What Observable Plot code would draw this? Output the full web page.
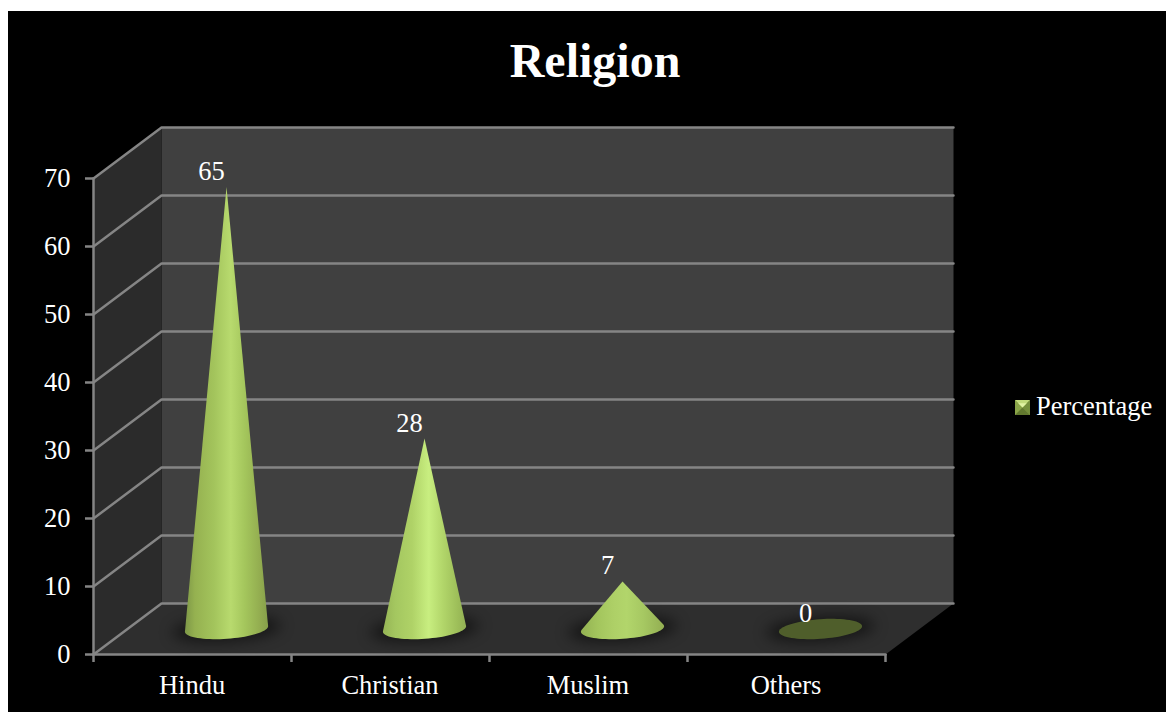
<!DOCTYPE html>
<html>
<head>
<meta charset="utf-8">
<script src="https://cdn.jsdelivr.net/npm/d3@7"></script>
<script src="https://cdn.jsdelivr.net/npm/@observablehq/plot@0.6"></script>
<style>
  html, body { margin: 0; padding: 0; background: #fff; width: 1166px; height: 712px; overflow: hidden; }
  #panel { position: absolute; left: 8px; top: 11px; width: 1158px; height: 701px; background: #000; }
  #chart { position: absolute; left: 0; top: 0; }
  #title {
    position: absolute; left: 0; width: 1174px; top: 22px; text-align: center;
    font: bold 48px "Liberation Serif", serif; line-height: 56px; color: #fff;
  }
  #legend {
    position: absolute; left: 1007px; top: 380px; display: flex; align-items: center; gap: 6px;
    font: 26.5px "Liberation Serif", serif; line-height: 30px; color: #fff;
  }
  #key { width: 15px; height: 15px; position: relative; top: 1px; }
</style>
</head>
<body>
<div id="panel">
  <div id="chart"></div>
  <div id="title">Religion</div>
  <div id="legend">
    <svg id="key" viewBox="0 0 14 14">
      <rect width="14" height="14" fill="#8fab4c"/>
      <path d="M0 0H14L7 7Z" fill="#c3dc7c"/>
      <path d="M0 0L7 7L0 14Z" fill="#8aa548"/>
      <path d="M14 0L7 7L14 14Z" fill="#76903c"/>
      <path d="M0 14L7 7L14 14Z" fill="#62792f"/>
      <path d="M3 3H11L7 7Z" fill="#e2f4a4"/>
    </svg>
    <span>Percentage</span>
  </div>
</div>
<script>
// Religion shares, by community
const categories = ["Hindu", "Christian", "Muslim", "Others"];
const percentages = [65, 28, 7, 0];
const valueTicks = [0, 10, 20, 30, 40, 50, 60, 70];
const categoryEdges = [0, 1, 2, 3, 4];

// Oblique projection: a unit of depth moves along the category and value axes.
const depthX = 68 / 198;
const depthY = 7.5;
const project = (c, v, t = 0) => ({x: c + depthX * t, y: v + depthY * t});

const serif = "Liberation Serif";
const lineGrey = "#858585";

const wallSide = [[0, 0, 0], [0, 70, 0], [0, 70, 1], [0, 0, 1]].map((p) => project(...p));
const wallBack = [[0, 0, 1], [4, 0, 1], [4, 70, 1], [0, 70, 1]].map((p) => project(...p));
const wallFloor = [[0, 0, 0], [4, 0, 0], [4, 0, 1], [0, 0, 1]].map((p) => project(...p));

// Each gridline runs up the side wall and across the back wall.
const gridlines = valueTicks.flatMap((v) =>
  [[0, v, 0], [0, v, 1], [4, v, 1]].map((p) => ({...project(...p), v}))
);
const axisEdge = [project(0, 0), project(0, 70)];
const axisBase = [project(0, 0), project(4, 0)];

// Tilted ellipse at the foot of a cone, in chart units.
const unitX = 198, unitY = 6.8;
function ellipse(i, scale = 1) {
  const centre = project(i + 0.5, 0, 0.5);
  const a = 41.7 * scale, b = 9.8 * scale, tilt = 4 * Math.PI / 180;
  return d3.range(0, 72).map((k) => {
    const th = (k / 72) * 2 * Math.PI;
    const ex = a * Math.cos(th), ey = b * Math.sin(th);
    return [
      centre.x + (ex * Math.cos(tilt) + ey * Math.sin(tilt)) / unitX,
      centre.y + (ex * Math.sin(tilt) - ey * Math.cos(tilt)) / unitY
    ];
  });
}
function coneOutline(i, value) {
  const apex = project(i + 0.5, value, 0.5);
  const hull = d3.polygonHull([[apex.x, apex.y], ...ellipse(i)]);
  return hull.map(([x, y]) => ({x, y}));
}
const xy = ([x, y]) => ({x, y});
const closed = {x: "x", y: "y", curve: "linear-closed", stroke: "none"};

const coneFills = ["url(#cone0)", "url(#cone1)", "url(#cone2)", "#4f5e2b"];

const labels = categories.map((name, i) => ({name, value: percentages[i], ...project(i + 0.5, percentages[i], 0.5)}));

const chart = Plot.plot({
  width: 1158,
  height: 701,
  marginLeft: 85,
  marginRight: 281,
  marginTop: 167,
  marginBottom: 58,
  style: {background: "transparent", color: "#fff"},
  x: {type: "linear", domain: [0, 4], axis: null},
  y: {type: "linear", domain: [0, 70], axis: null},
  marks: [
    Plot.line(wallBack, {...closed, fill: "#404040"}),
    Plot.line(wallSide, {...closed, fill: "#2b2b2b"}),
    Plot.line(wallFloor, {...closed, fill: "#2e2e2e"}),
    Plot.line(gridlines, {x: "x", y: "y", z: "v", stroke: lineGrey, strokeWidth: 2.5}),
    Plot.line(axisEdge, {x: "x", y: "y", stroke: lineGrey, strokeWidth: 2.5}),
    Plot.line(axisBase, {x: "x", y: "y", stroke: lineGrey, strokeWidth: 2.5}),
    Plot.axisY({
      ticks: valueTicks, tickSize: 8, tickPadding: 15, label: null, stroke: lineGrey, strokeWidth: 2.5,
      fill: "#fff", fontSize: 26.5, fontFamily: serif
    }),
    Plot.axisX({
      ticks: categoryEdges, tickSize: 8, tickFormat: () => "", label: null, stroke: lineGrey, strokeWidth: 2.5
    }),
    ...categories.map((_, i) =>
      Plot.line(ellipse(i, 1.3).map(xy), {...closed, fill: "#000", fillOpacity: 0.5, imageFilter: "blur(7px)"})
    ),
    ...categories.map((_, i) =>
      Plot.line(coneOutline(i, percentages[i]), {...closed, fill: coneFills[i]})
    ),
    Plot.text(labels, {
      x: "x", y: "y", text: (d) => String(d.value), dx: -15, dy: -15.5,
      fill: "#fff", fontSize: 26.5, fontFamily: serif
    }),
    Plot.text(categories, {
      x: (_, i) => i + 0.5, y: () => 0, text: (d) => d, dx: -0.5, dy: 31,
      fill: "#fff", fontSize: 26.5, fontFamily: serif
    })
  ]
});

// Cone shading runs across each cone, brightest just right of the axis.
const defs = d3.select(chart).insert("defs", ":first-child");
const shades = [
  [[0, "#7d9747"], [0.12, "#95b150"], [0.35, "#a3c45c"], [0.55, "#b8da6e"], [0.72, "#a4c65c"], [0.9, "#93ad50"], [1, "#86a04a"]],
  [[0, "#95b455"], [0.15, "#a4c760"], [0.35, "#afd267"], [0.55, "#c8ee80"], [0.72, "#b2d66a"], [0.9, "#9dbe59"], [1, "#92b054"]],
  [[0, "#93b152"], [0.2, "#a3c55d"], [0.4, "#aed067"], [0.55, "#b2d56b"], [0.75, "#a6c862"], [1, "#93ae52"]]
];
shades.forEach((stops, i) => {
  const g = defs.append("linearGradient").attr("id", `cone${i}`).attr("x1", 0).attr("x2", 1).attr("y1", 0).attr("y2", 0);
  stops.forEach(([o, c]) => g.append("stop").attr("offset", o).attr("stop-color", c));
});

document.getElementById("chart").append(chart);
</script>
</body>
</html>
